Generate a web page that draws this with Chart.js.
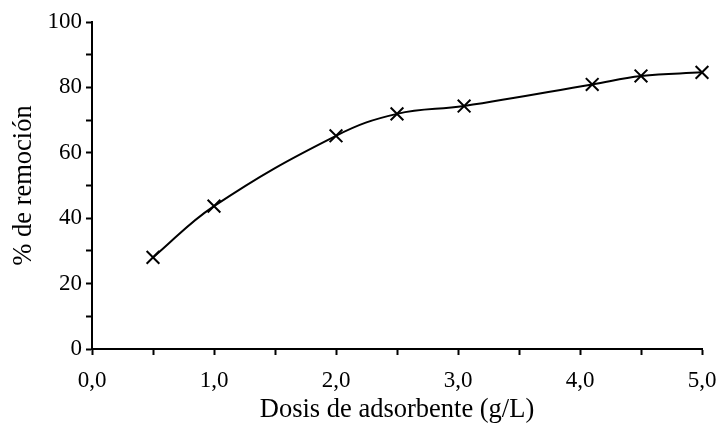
<!DOCTYPE html>
<html>
<head>
<meta charset="utf-8">
<script src="https://cdn.jsdelivr.net/npm/chart.js@4"></script>
<style>
  html, body { margin: 0; padding: 0; background: #fff; }
  #wrap { width: 720px; height: 427px; }
</style>
</head>
<body>
<div id="wrap"><canvas id="chart" width="720" height="427"></canvas></div>
<script>
// Dosis de adsorbente (g/L) vs % de remoción
const dosis = [0.5, 1.0, 2.0, 2.5, 3.05, 4.1, 4.5, 5.0];
const remocion = [28.0, 43.7, 65.2, 71.9, 74.3, 80.9, 83.5, 84.6];

const xTitle = 'Dosis de adsorbente (g/L)';
const yTitle = '% de remoción';

const serif = '"Liberation Serif", "Times New Roman", serif';

const points = dosis.map((x, i) => ({ x: x, y: remocion[i] }));

new Chart(document.getElementById('chart'), {
    type: 'line',
    data: {
        datasets: [{
            data: points,
            borderColor: '#000',
            borderWidth: 2,
            tension: 0.4,
            fill: false,
            clip: false,
            pointStyle: 'crossRot',
            pointRadius: 9,
            pointBorderWidth: 2,
            pointBorderColor: '#000',
            pointBackgroundColor: '#000'
        }]
    },
    options: {
        responsive: false,
        animation: false,
        layout: { padding: { top: 22, right: 18, left: 4, bottom: 0 } },
        plugins: { legend: { display: false }, tooltip: { enabled: false } },
        scales: {
            x: {
                type: 'linear',
                min: 0,
                max: 5,
                afterFit: (s) => { s.height = 78; s.paddingLeft = 0; s.paddingRight = 0; },
                border: { color: '#000', width: 2 },
                grid: { drawOnChartArea: false, drawTicks: true, tickLength: 6, color: '#000', tickWidth: 2 },
                ticks: {
                    stepSize: 0.5,
                    autoSkip: false,
                    maxRotation: 0,
                    color: '#000',
                    padding: 12,
                    font: { family: serif, size: 23 },
                    callback: (v) => Number.isInteger(v) ? v.toFixed(1).replace('.', ',') : ''
                },
                title: { display: true, text: xTitle, color: '#000', font: { family: serif, size: 26.5 }, padding: { top: 4, bottom: 1 } }
            },
            y: {
                min: 0,
                max: 100,
                afterFit: (s) => { s.width = 88; s.paddingTop = 0; s.paddingBottom = 0; },
                border: { color: '#000', width: 2 },
                grid: { drawOnChartArea: false, drawTicks: true, tickLength: 6, color: '#000', tickWidth: 2 },
                ticks: {
                    stepSize: 10,
                    autoSkip: false,
                    color: '#000',
                    padding: 4,
                    font: { family: serif, size: 23 },
                    callback: (v) => v % 20 === 0 ? String(v) : ''
                },
                title: { display: true, text: yTitle, color: '#000', font: { family: serif, size: 26.5 }, padding: { bottom: 0 } }
            }
        }
    }
});
</script>
</body>
</html>
